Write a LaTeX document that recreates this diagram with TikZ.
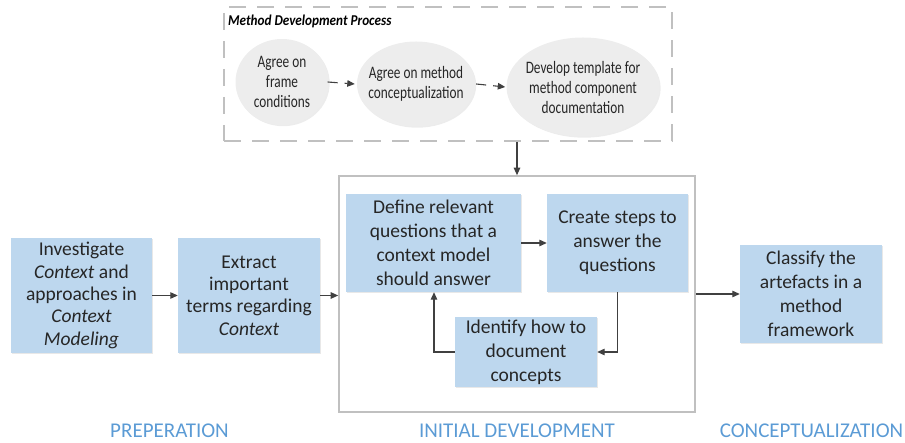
\documentclass[tikz,border=0pt]{standalone}
\usepackage{fontspec}
\setmainfont{Carlito}
\newfontfamily\ellfont[FakeStretch=0.76]{Carlito}
\newfontfamily\titlefont[FakeStretch=0.88]{Carlito}
\usetikzlibrary{arrows.meta,shapes.geometric,shadows}
\definecolor{boxfill}{HTML}{BDD7EE}
\definecolor{txt}{HTML}{262626}
\definecolor{arr}{HTML}{404040}
\definecolor{ellfill}{HTML}{EDEDED}
\definecolor{framegray}{HTML}{C0C0C0}
\definecolor{phase}{HTML}{5B9BD5}
\tikzset{
  pbox/.style={rectangle, fill=boxfill, inner sep=0pt, align=center, text=txt,
    font=\fontsize{19.5}{22.4}\selectfont,
    drop shadow={opacity=0.18, shadow xshift=1.2pt, shadow yshift=-1.2pt}},
  ibox/.style={pbox, font=\fontsize{19.5}{24}\selectfont},
  pell/.style={ellipse, fill=ellfill, inner sep=0pt,
    drop shadow={opacity=0.15, shadow xshift=1.2pt, shadow yshift=-1.2pt}},
  elltext/.style={inner sep=0pt, align=center, text=txt,
    font=\ellfont\fontsize{17.5}{20}\selectfont},
  conn/.style={draw=arr, line width=1.1pt, -{Triangle[length=7.5pt,width=6.5pt]}},
  dconn/.style={conn, dash pattern=on 10pt off 7pt},
  phaselbl/.style={text=phase, font=\fontsize{21}{24}\selectfont}
}
\begin{document}
\begin{tikzpicture}[x=1pt,y=-1pt]
\useasboundingbox (0,0) rectangle (905,443);
% Method development process frame
\node[draw=framegray, line width=1.6pt, dash pattern=on 17pt off 11pt, minimum width=448pt, minimum height=134pt, inner sep=0pt] (mdp) at (448,74) {};
\node[anchor=west, inner sep=0pt, font=\titlefont\fontsize{15}{17}\selectfont\bfseries\itshape, text=black] (mdptitle) at (228,21) {Method Development Process};
\node[pell, minimum width=93pt, minimum height=86pt] (e1) at (282,82) {};
\node[elltext] (e1t) at (e1) {Agree on\\frame\\conditions};
\node[pell, minimum width=118pt, minimum height=85pt] (e2) at (416,84) {};
\node[elltext] (e2t) at (e2) {Agree on method\\conceptualization};
\node[pell, minimum width=153pt, minimum height=99pt] (e3) at (583,87) {};
\node[elltext] (e3t) at (e3) {Develop template for\\method component\\documentation};
\draw[dconn] ([xshift=-1pt]e1.east) -- ([xshift=-2pt]e2.west);
\draw[dconn] ([xshift=1pt]e2.east) -- ([xshift=-1pt]e3.west);
% Initial development frame
\node[draw=framegray, line width=1.6pt, minimum width=356pt, minimum height=236pt, inner sep=0pt,
  drop shadow={opacity=0.12, shadow xshift=1pt, shadow yshift=-1.5pt}, fill=white] (init) at (517,294) {};
\draw[conn] (init.north |- mdp.south) -- (init.north);
% Preparation boxes
\node[pbox, minimum width=141pt, minimum height=115pt] (inv) at (81.5,295.5) {Investigate\\\textit{Context} and\\approaches in\\\textit{Context}\\\textit{Modeling}};
\node[pbox, minimum width=142pt, minimum height=115pt] (ext) at (249,295.5) {Extract\\important\\terms regarding\\\textit{Context}};
\draw[conn] (inv.east) -- (ext.west);
\draw[conn] (ext.east) -- (ext.east -| init.west);
% Initial development boxes
\node[ibox, minimum width=175pt, minimum height=98pt] (def) at (433.5,243) {Define relevant\\questions that a\\context model\\should answer};
\node[ibox, minimum width=141pt, minimum height=98pt] (cre) at (617.5,243) {Create steps to\\answer the\\questions};
\node[ibox, minimum width=142pt, minimum height=70pt] (idf) at (526,352) {Identify how to\\document\\concepts};
\draw[conn] (def.east) -- (cre.west);
\draw[conn] (cre.south) |- (idf.east);
\coordinate (loopc) at (434,352);
\draw[conn] (idf.west) -- (loopc) -- (loopc |- def.south);
% Conceptualization
\node[ibox, minimum width=142pt, minimum height=98pt] (cls) at (811,294) {Classify the\\artefacts in a\\method\\framework};
\draw[conn] (init.east |- cls.west) -- (cls.west);
% Phase labels
\node[phaselbl] (lp) at (169.5,431) {PREPERATION};
\node[phaselbl] (li) at (517,431) {INITIAL DEVELOPMENT};
\node[phaselbl] (lc) at (811.5,431) {CONCEPTUALIZATION};
\end{tikzpicture}
\end{document}
